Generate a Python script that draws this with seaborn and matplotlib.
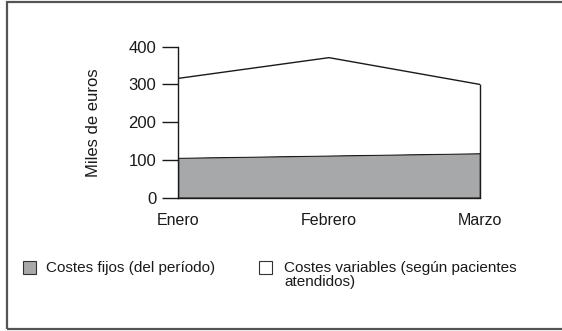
import matplotlib
matplotlib.use("Agg")
import matplotlib.pyplot as plt
from matplotlib.patches import Rectangle
import seaborn as sns
import pandas as pd

meses = ["Enero", "Febrero", "Marzo"]
costes_fijos = [106, 112, 118]
costes_variables = [210, 259, 182]
y_ticks = [0, 100, 200, 300, 400]

sns.set_theme(style="white")
plt.rcParams["font.family"] = ["Liberation Sans", "DejaVu Sans"]

df = pd.DataFrame({"mes": meses, "fijos": costes_fijos, "variables": costes_variables})
df["x"] = range(len(df))
df["total"] = df["fijos"] + df["variables"]

fig = plt.figure(figsize=(5.62, 3.31), dpi=100)
ax = fig.add_axes([178 / 562, (331 - 197.7) / 331, 302 / 562, 151 / 331])

gris = "#a7a8aa"
tinta = "#1a1a1a"
ax.fill_between(df["x"], 0, df["fijos"], facecolor=gris, edgecolor=tinta, linewidth=1.0)
ax.fill_between(df["x"], df["fijos"], df["total"], facecolor="white", edgecolor="none")
sns.lineplot(data=df, x="x", y="total", ax=ax, color=tinta, linewidth=1.0)
ax.vlines(df["x"].iloc[-1], 0, df["total"].iloc[-1], color=tinta, linewidth=1.0,
          clip_on=False, zorder=5)

ax.set_xlim(0, 2)
ax.set_ylim(0, 400)
ax.set_yticks(y_ticks)
ax.set_xticks(df["x"])
ax.set_xticklabels(meses)
ax.set_xlabel("")
ax.set_ylabel("Miles de euros", fontsize=12, color=tinta, labelpad=20)
ax.tick_params(axis="y", length=11.5, width=1.0, color=tinta, labelsize=12,
               labelcolor=tinta, pad=4, left=True)
ax.tick_params(axis="x", length=0, labelsize=11.5, labelcolor=tinta, pad=11)
for s in ["top", "right"]:
    ax.spines[s].set_visible(False)
for s in ["left", "bottom"]:
    ax.spines[s].set_color(tinta)
    ax.spines[s].set_linewidth(1.0)
ax.set_facecolor("white")

# frame around the whole figure
fig.patches.append(Rectangle((7 / 562, 2 / 331), 1.2, 327 / 331, transform=fig.transFigure,
                             fill=False, edgecolor="#555555", linewidth=1.6, clip_on=False))

# legend
def caja(x, y, color):
    fig.patches.append(Rectangle((x / 562, 1 - (y + 13) / 331), 13 / 562, 13 / 331,
                                 transform=fig.transFigure, facecolor=color,
                                 edgecolor="#333333", linewidth=0.8))

caja(23, 261, gris)
fig.text(46 / 562, 1 - 268 / 331, "Costes fijos (del período)", fontsize=11,
         va="center", ha="left", color=tinta)
caja(259, 261, "white")
fig.text(284 / 562, 1 - 261 / 331, "Costes variables (según pacientes\natendidos)", fontsize=11,
         va="top", ha="left", color=tinta, linespacing=1.0)

fig.savefig("out.png", dpi=100, facecolor="white")
